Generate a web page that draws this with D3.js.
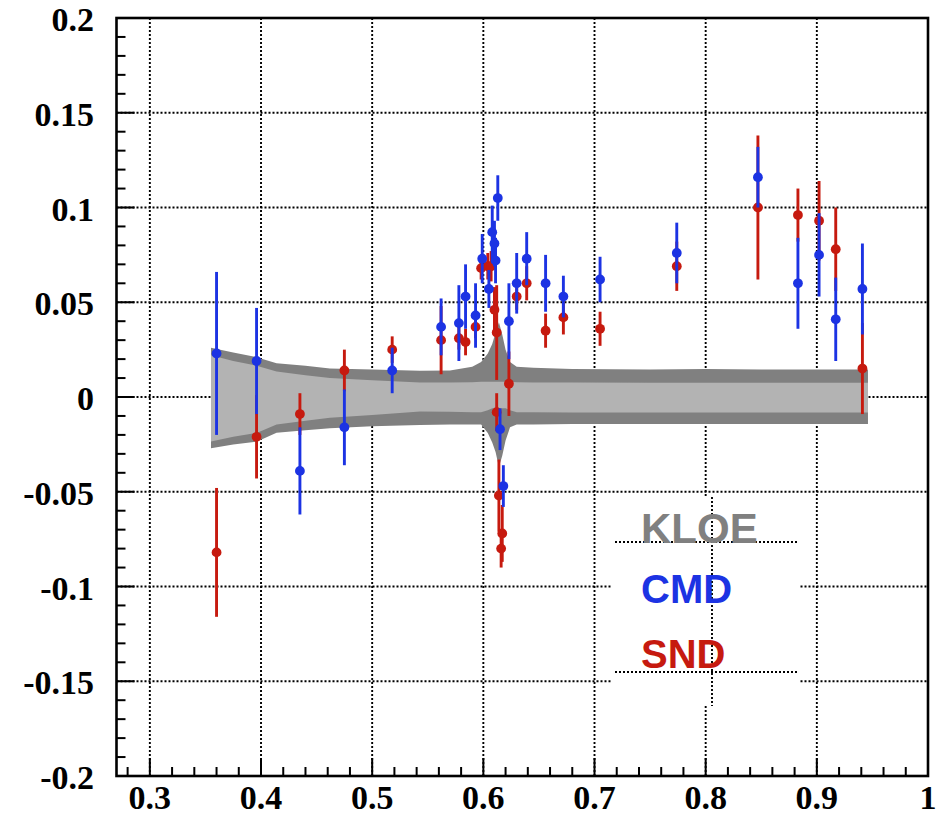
<!DOCTYPE html>
<html><head><meta charset="utf-8">
<script src="https://cdn.jsdelivr.net/npm/d3@7"></script>
<style>html,body{margin:0;padding:0;background:#fff;}svg{display:block;}</style>
</head><body>
<svg id="chart" width="947" height="815"></svg>
<script>
// ---------------- data ----------------
const xTickValues = [0.3, 0.4, 0.5, 0.6, 0.7, 0.8, 0.9, 1.0];
const xTickLabels = ["0.3", "0.4", "0.5", "0.6", "0.7", "0.8", "0.9", "1"];
const yTickValues = [0.2, 0.15, 0.1, 0.05, 0, -0.05, -0.1, -0.15, -0.2];
const yTickLabels = ["0.2", "0.15", "0.1", "0.05", "0", "-0.05", "-0.1", "-0.15", "-0.2"];

// KLOE band (outer = dark, inner = light)
const kloeX       = [0.355, 0.375, 0.396, 0.414, 0.44, 0.462, 0.50, 0.543, 0.57, 0.59, 0.598, 0.604, 0.608, 0.611, 0.614, 0.617, 0.620, 0.624, 0.630, 0.645, 0.68, 0.75, 0.80, 0.85, 0.90, 0.946];
const kloeOuterHi = [0.026, 0.0235, 0.021, 0.0178, 0.0165, 0.0151, 0.0145, 0.0139, 0.014, 0.016, 0.0185, 0.023, 0.028, 0.034, 0.0395, 0.033, 0.025, 0.0185, 0.016, 0.0155, 0.0148, 0.0145, 0.0148, 0.0145, 0.0145, 0.0145];
const kloeOuterLo = [-0.027, -0.025, -0.0236, -0.0188, -0.0175, -0.0165, -0.0155, -0.0148, -0.0145, -0.0145, -0.0145, -0.019, -0.024, -0.029, -0.037, -0.031, -0.023, -0.016, -0.0145, -0.0145, -0.0142, -0.0142, -0.0142, -0.0142, -0.0142, -0.0142];
const kloeInnerHi = [0.022, 0.019, 0.0165, 0.0135, 0.0115, 0.010, 0.0088, 0.0077, 0.0077, 0.0078, 0.008, 0.008, 0.008, 0.008, 0.008, 0.008, 0.008, 0.008, 0.0078, 0.0077, 0.0076, 0.0075, 0.0075, 0.0075, 0.0075, 0.0075];
const kloeInnerLo = [-0.0235, -0.021, -0.019, -0.0145, -0.0125, -0.011, -0.0095, -0.0077, -0.0078, -0.008, -0.008, -0.007, -0.006, -0.006, -0.006, -0.006, -0.006, -0.007, -0.008, -0.008, -0.0082, -0.0082, -0.0082, -0.0082, -0.0082, -0.0082];

// CMD points
const cmdX   = [0.360, 0.396, 0.435, 0.475, 0.518, 0.562, 0.578, 0.584, 0.593, 0.599, 0.605, 0.608, 0.610, 0.611, 0.613, 0.615, 0.618, 0.623, 0.630, 0.639, 0.656, 0.672, 0.705, 0.774, 0.847, 0.883, 0.902, 0.917, 0.941];
const cmdY   = [0.023, 0.019, -0.039, -0.016, 0.014, 0.037, 0.039, 0.053, 0.043, 0.073, 0.057, 0.087, 0.081, 0.072, 0.105, -0.017, -0.047, 0.040, 0.060, 0.073, 0.060, 0.053, 0.062, 0.076, 0.116, 0.060, 0.075, 0.041, 0.057];
const cmdErr = [0.043, 0.028, 0.023, 0.020, 0.012, 0.015, 0.020, 0.017, 0.017, 0.013, 0.010, 0.014, 0.012, 0.012, 0.012, 0.011, 0.011, 0.020, 0.016, 0.014, 0.015, 0.011, 0.012, 0.016, 0.016, 0.024, 0.022, 0.022, 0.024];

// SND points
const sndX   = [0.360, 0.396, 0.435, 0.475, 0.518, 0.562, 0.578, 0.584, 0.593, 0.598, 0.604, 0.607, 0.610, 0.612, 0.612, 0.614, 0.616, 0.617, 0.623, 0.630, 0.639, 0.656, 0.672, 0.705, 0.774, 0.847, 0.883, 0.902, 0.917, 0.941];
const sndY   = [-0.082, -0.021, -0.009, 0.014, 0.025, 0.030, 0.031, 0.029, 0.037, 0.068, 0.069, 0.069, 0.046, 0.034, -0.008, -0.052, -0.080, -0.072, 0.007, 0.053, 0.060, 0.035, 0.042, 0.036, 0.069, 0.100, 0.096, 0.093, 0.078, 0.015];
const sndErr = [0.034, 0.022, 0.011, 0.011, 0.007, 0.018, 0.006, 0.007, 0.006, 0.006, 0.007, 0.008, 0.012, 0.025, 0.010, 0.019, 0.010, 0.015, 0.017, 0.007, 0.009, 0.009, 0.009, 0.009, 0.013, 0.038, 0.014, 0.021, 0.022, 0.024];

const legendNames = ["KLOE", "CMD", "SND"];
const legendColors = ["#808080", "#1c33e3", "#c61a0f"];

// ---------------- layout ----------------
const L = 116.5, R = 928, T = 18, B = 776;
const svg = d3.select("#chart");
const x = d3.scaleLinear().domain([0.27, 1.0]).range([L, R]);
const y = d3.scaleLinear().domain([-0.2, 0.2]).range([B, T]);

const gridStyle = sel => sel.attr("stroke", "#000").attr("stroke-width", 1.9).attr("stroke-dasharray", "2,2").attr("fill", "none");

// grid
const grid = svg.append("g");
[0.3,0.4,0.5,0.6,0.7,0.8,0.9].forEach(v => {
  grid.append("line").attr("x1", x(v)).attr("x2", x(v)).attr("y1", T).attr("y2", B).call(gridStyle);
});
[0.15,0.1,0.05,0,-0.05,-0.1,-0.15].forEach(v => {
  grid.append("line").attr("x1", L).attr("x2", R).attr("y1", y(v)).attr("y2", y(v)).call(gridStyle);
});

// KLOE band
const bandIdx = d3.range(kloeX.length);
const outerArea = d3.area().x(i => x(kloeX[i])).y0(i => y(kloeOuterLo[i])).y1(i => y(kloeOuterHi[i]));
const innerArea = d3.area().x(i => x(kloeX[i])).y0(i => y(kloeInnerLo[i])).y1(i => y(kloeInnerHi[i]));
svg.append("path").attr("d", outerArea(bandIdx)).attr("fill", "#808080");
svg.append("path").attr("d", innerArea(bandIdx)).attr("fill", "#b3b3b3");

// points
function drawSeries(xs, ys, es, color) {
  const g = svg.append("g");
  const idx = d3.range(xs.length);
  g.selectAll("line").data(idx).join("line")
    .attr("x1", i => x(xs[i])).attr("x2", i => x(xs[i]))
    .attr("y1", i => y(ys[i] + es[i])).attr("y2", i => y(ys[i] - es[i]))
    .attr("stroke", color).attr("stroke-width", 2.9);
  g.selectAll("circle").data(idx).join("circle")
    .attr("cx", i => x(xs[i])).attr("cy", i => y(ys[i])).attr("r", 4.9)
    .attr("fill", color);
}
drawSeries(sndX, sndY, sndErr, legendColors[2]);
drawSeries(cmdX, cmdY, cmdErr, legendColors[1]);

// legend (pasted box)
const lg = svg.append("g");
lg.append("rect").attr("x", 611).attr("y", 497).attr("width", 189).attr("height", 209).attr("fill", "#fff");
lg.append("line").attr("x1", 712).attr("x2", 712).attr("y1", 497).attr("y2", 706).call(gridStyle);
lg.append("line").attr("x1", 615).attr("x2", 797).attr("y1", 542).attr("y2", 542).call(gridStyle);
lg.append("line").attr("x1", 615).attr("x2", 797).attr("y1", 672).attr("y2", 672).call(gridStyle);
const legY = [543, 603, 668];
const legSize = [42, 40, 40];
legendNames.forEach((n, i) => {
  lg.append("text").attr("x", 641).attr("y", legY[i])
    .attr("font-family", "Liberation Sans, Arial, sans-serif").attr("font-weight", "bold")
    .attr("font-size", legSize[i]).attr("fill", legendColors[i]).text(n);
});

// frame
svg.append("rect").attr("x", L).attr("y", T).attr("width", R - L).attr("height", B - T)
  .attr("fill", "none").attr("stroke", "#000").attr("stroke-width", 2.6);

// ticks: x
const xMinor = d3.range(0.28, 1.0, 0.02).filter(v => Math.abs(Math.round(v * 10) - v * 10) > 1e-6);
const tk = svg.append("g").attr("stroke", "#000").attr("stroke-width", 2);
xMinor.forEach(v => tk.append("line").attr("x1", x(v)).attr("x2", x(v)).attr("y1", B).attr("y2", B - 9));
xTickValues.slice(0, -1).forEach(v => tk.append("line").attr("x1", x(v)).attr("x2", x(v)).attr("y1", B).attr("y2", B - 18));
// ticks: y
const yMinor = d3.range(-0.19, 0.2, 0.01).filter(v => Math.abs(Math.round(v * 20) - v * 20) > 1e-6);
yMinor.forEach(v => tk.append("line").attr("x1", L).attr("x2", L + 9).attr("y1", y(v)).attr("y2", y(v)));
yTickValues.forEach(v => tk.append("line").attr("x1", L).attr("x2", L + 18).attr("y1", y(v)).attr("y2", y(v)));

// labels
const lab = svg.append("g").attr("font-family", "Liberation Serif, Times New Roman, serif")
  .attr("font-weight", "bold").attr("font-size", 34).attr("fill", "#000");
yTickValues.forEach((v, i) => lab.append("text").attr("x", 94).attr("y", y(v) + 13)
  .attr("text-anchor", "end").text(yTickLabels[i]));
xTickValues.forEach((v, i) => lab.append("text").attr("x", x(v)).attr("y", 809)
  .attr("text-anchor", "middle").text(xTickLabels[i]));
</script>
</body></html>
